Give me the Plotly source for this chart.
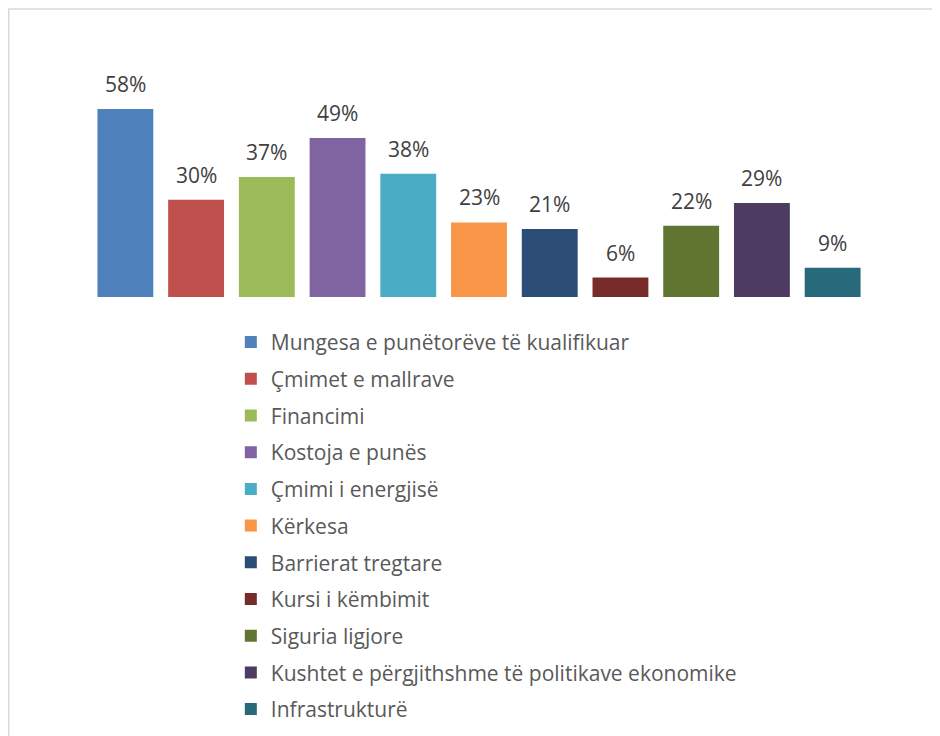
import plotly.graph_objects as go

categories = [
    "Mungesa e punëtorëve të kualifikuar",
    "Çmimet e mallrave",
    "Financimi",
    "Kostoja e punës",
    "Çmimi i energjisë",
    "Kërkesa",
    "Barrierat tregtare",
    "Kursi i këmbimit",
    "Siguria ligjore",
    "Kushtet e përgjithshme të politikave ekonomike",
    "Infrastrukturë",
]
shares = [0.58, 0.30, 0.37, 0.49, 0.38, 0.23, 0.21, 0.06, 0.22, 0.29, 0.09]
colors = [
    "#4F81BD", "#C0504D", "#9BBB59", "#8064A2", "#4BACC6", "#F79646",
    "#2C4D75", "#772C2A", "#5F7530", "#4D3B62", "#276A7C",
]

fig = go.Figure()
for name, val, col in zip(categories, shares, colors):
    fig.add_trace(go.Bar(
        x=[name], y=[val], name=name, legendgroup=name,
        marker=dict(color=col, line=dict(width=0)),
    ))
    fig.add_annotation(
        x=name, y=val, text=f"{val:.0%}", showarrow=False,
        yanchor="bottom", yshift=9,
        font=dict(size=21, color="#404040"),
    )

fig.update_layout(
    width=940, height=736,
    margin=dict(l=82, r=80, t=62, b=447, autoexpand=False),
    paper_bgcolor="white", plot_bgcolor="white",
    font=dict(family="Open Sans", color="#595959"),
    barmode="relative", bargap=0.21,
    showlegend=True,
    legend=dict(
        x=0.181, y=-0.11, xanchor="left", yanchor="top",
        font=dict(size=21, color="#595959"),
        tracegroupgap=6.4, itemwidth=30, maxheight=700,
    ),
    xaxis=dict(showticklabels=False, showline=False, showgrid=False, zeroline=False),
    yaxis=dict(range=[0, 0.7], visible=False),
    shapes=[dict(
        type="rect", xref="paper", yref="paper",
        x0=-0.1045, x1=1.3, y0=-2.0, y1=1.2687,
        line=dict(color="#D9D9D9", width=1.5),
    )],
)

fig.write_html("out.html")
